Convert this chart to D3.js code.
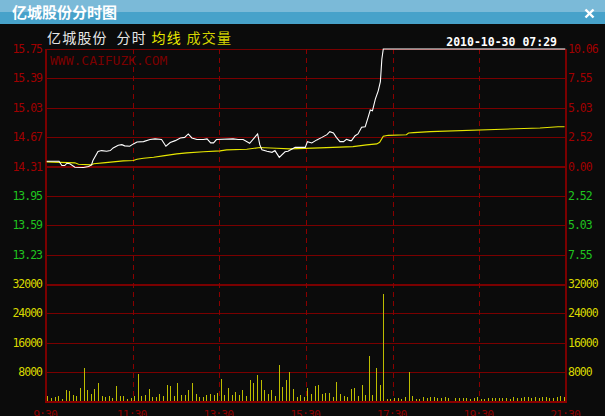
<!DOCTYPE html>
<html><head><meta charset="utf-8">
<script src="https://cdn.jsdelivr.net/npm/d3@7"></script>
<style>body{margin:0;background:#0b0b0b;overflow:hidden} svg{display:block}</style>
</head><body><svg id="c" width="605" height="416"></svg>
<script>
const titleText = "亿城股份分时图";
const dateText = "2010-10-30 07:29";
const watermark = "WWW.CAIFUZK.COM";
const legendParts = ["亿城股份","分时","均线","成交量"];
const legendColors = ["#e6e6e6","#e6e6e6","#e8e800","#d4d400"];
const priceTicks = [15.75,15.39,15.03,14.67,14.31,13.95,13.59,13.23];
const pctLabels = ["10.06","7.55","5.03","2.52","0.00","2.52","5.03","7.55"];
const volTicks = [32000,24000,16000,8000];
const timeLabels = ["9:30","11:30","13:30","15:30","17:30","19:30","21:30"];
const timeMinutes = [0,120,240,360,480,600,720];
const prevClose = 14.31;

const priceMin = [1,18,22,26,29,33,40,52,59,63,65,72,77,84,89,93,100,105,109,116,121,126,135,144,151,160,166,172,179,186,192,197,202,209,218,223,228,232,236,259,266,273,282,293,296,299,306,313,317,323,331,335,340,345,359,362,368,375,382,389,393,398,402,407,412,416,421,423,428,432,437,442,446,449,452,456,460,463,465,467,719];
const priceVal = [14.375,14.375,14.322,14.322,14.35,14.343,14.301,14.298,14.31,14.33,14.383,14.493,14.505,14.497,14.505,14.538,14.57,14.578,14.563,14.558,14.587,14.611,14.615,14.64,14.648,14.64,14.558,14.603,14.627,14.66,14.667,14.709,14.66,14.64,14.64,14.648,14.6,14.6,14.64,14.648,14.64,14.64,14.594,14.709,14.578,14.514,14.497,14.484,14.505,14.423,14.49,14.497,14.521,14.545,14.545,14.615,14.599,14.636,14.667,14.7,14.737,14.721,14.667,14.615,14.615,14.643,14.627,14.627,14.688,14.709,14.79,14.798,14.912,15.002,14.993,15.136,15.237,15.351,15.624,15.75,15.75];

const avgMin = [1,40,45,63,66,79,93,107,121,126,135,149,162,181,195,218,241,250,278,296,319,338,379,425,444,458,462,467,474,499,502,509,532,684,709,718];
const avgVal = [14.367,14.355,14.338,14.33,14.343,14.355,14.367,14.379,14.383,14.399,14.411,14.423,14.44,14.465,14.477,14.49,14.502,14.514,14.521,14.542,14.533,14.526,14.538,14.554,14.575,14.587,14.606,14.68,14.692,14.7,14.721,14.725,14.737,14.782,14.798,14.798];

const volumes = [1370,800,1200,1370,550,3000,2700,1640,1370,3550,
9000,3000,1920,3280,4920,1370,1100,1370,820,4100,
1370,1370,550,820,1370,7400,1370,1640,3280,1100,
1100,1920,1370,4370,4100,1370,4920,1640,1640,3000,
4920,1920,1100,1100,1640,1920,1640,2200,6000,1640,
3550,1640,2460,1640,3000,1370,5740,4920,7100,5740,
3000,1920,3000,1370,9850,3830,5740,7930,3280,1100,
1640,1100,3550,1920,4100,4370,1920,2200,2200,1100,
5200,1920,1370,1100,3280,3550,1370,4370,1640,12300,
1640,9020,4370,29260,550,550,820,730,460,1000,
7900,1280,460,460,1000,730,1000,1000,730,730,
1000,730,0,730,730,730,730,460,730,1000,
460,460,730,730,730,730,730,730,460,1000,
730,730,1000,1000,730,1000,730,1000,1000,730,
730,1000,1280,1000];

const svg = d3.select("#c");
const L = 46, R = 566, T = 49, PB = 284, VB = 401;
const x = d3.scaleLinear().domain([0,720]).range([L,R]);
const yP = d3.scaleLinear().domain([12.87,15.75]).range([PB,T]);
const yV = d3.scaleLinear().domain([0,32000]).range([VB,PB]);

const RED = "#a00000", GRID = "#7a0000", GREEN = "#1fc31f", YEL = "#d8d800";
const mono = "'DejaVu Sans Mono', monospace";
const cjk = "'Noto Sans CJK SC', sans-serif";

svg.append("rect").attr("width",605).attr("height",416).attr("fill","#0b0b0b");
svg.append("rect").attr("x",0).attr("y",0).attr("width",605).attr("height",12).attr("fill","#7bbad8");
svg.append("rect").attr("x",0).attr("y",12).attr("width",605).attr("height",12).attr("fill","#47a2ca");
svg.append("text").attr("x",12).attr("y",17.5).attr("fill","#fff").attr("font-family",cjk)
  .attr("font-weight","bold").attr("font-size",15).text(titleText);
const cx = 589.5, cy = 13.5;
[[-4,-4,4,4],[-4,4,4,-4]].forEach(d=>svg.append("line").attr("x1",cx+d[0]).attr("y1",cy+d[1])
  .attr("x2",cx+d[2]).attr("y2",cy+d[3]).attr("stroke","#fff").attr("stroke-width",2.4));

// header legend text, placed word by word
const legendX = [47,116.5,151.5,186.5];
legendParts.forEach((t,i)=>{
  svg.append("text").attr("x",legendX[i]).attr("y",42.5).attr("font-family",cjk).attr("font-size",14)
    .attr("letter-spacing","1.2px").attr("fill",legendColors[i]).text(t);
});

svg.append("text").attr("x",557).attr("y",45.5).attr("text-anchor","end").attr("fill","#fff")
  .attr("font-family",mono).attr("font-weight","bold").attr("font-size",11.5).text(dateText);

svg.append("text").attr("x",50).attr("y",65).attr("fill","#7a0000").attr("font-family",mono)
  .attr("font-size",13).text(watermark);

const g = svg.append("g").attr("shape-rendering","crispEdges");
priceTicks.forEach((p,i)=>{
  if (i===0) return;
  g.append("line").attr("x1",L).attr("x2",R).attr("y1",Math.round(yP(p))+0.5).attr("y2",Math.round(yP(p))+0.5)
   .attr("stroke",GRID).attr("stroke-width", p===prevClose?2:1);
});
g.append("line").attr("x1",L).attr("x2",R).attr("y1",T+0.5).attr("y2",T+0.5).attr("stroke",GRID).attr("stroke-width",1);
volTicks.forEach((v,i)=>{
  g.append("line").attr("x1",L).attr("x2",R).attr("y1",Math.round(yV(v))+0.5).attr("y2",Math.round(yV(v))+0.5)
   .attr("stroke",GRID).attr("stroke-width", i===0?2:1);
});
timeMinutes.slice(1,-1).forEach(m=>{
  g.append("line").attr("x1",Math.round(x(m))+0.5).attr("x2",Math.round(x(m))+0.5).attr("y1",T).attr("y2",VB)
   .attr("stroke","#8a0000").attr("stroke-width",1).attr("stroke-dasharray","5,4");
});

g.selectAll("line.vol").data(volumes).enter().append("line").attr("class","vol")
  .attr("x1",(d,i)=>Math.round(x(i*5+2))+0.5).attr("x2",(d,i)=>Math.round(x(i*5+2))+0.5)
  .attr("y1",yV(0)).attr("y2",d=>yV(d)).attr("stroke","#bcbc00").attr("stroke-width",1);

const lineP = d3.line().x(d=>x(d[0])).y(d=>yP(d[1]));
svg.append("path").datum(d3.zip(avgMin,avgVal)).attr("d",lineP).attr("fill","none")
  .attr("stroke","#e6e600").attr("stroke-width",1.1);
svg.append("path").datum(d3.zip(priceMin,priceVal)).attr("d",lineP).attr("fill","none")
  .attr("stroke","#ffffff").attr("stroke-width",1.1);

g.append("line").attr("x1",L).attr("x2",L).attr("y1",T).attr("y2",VB+2).attr("stroke",GRID).attr("stroke-width",2);
g.append("line").attr("x1",R).attr("x2",R).attr("y1",T).attr("y2",VB+2).attr("stroke",GRID).attr("stroke-width",2);
g.append("line").attr("x1",L-1).attr("x2",R+1).attr("y1",VB+1).attr("y2",VB+1).attr("stroke","#8a0000").attr("stroke-width",2);

const lab = svg.append("g").attr("font-family",mono).attr("font-size",11.5).attr("letter-spacing","-1px");
priceTicks.forEach((p,i)=>{
  const col = p>=prevClose?RED:GREEN;
  lab.append("text").attr("x",42).attr("y",yP(p)+4).attr("text-anchor","end").attr("fill",col).text(p.toFixed(2));
  lab.append("text").attr("x",568).attr("y",yP(p)+4).attr("fill",col).text(pctLabels[i]);
});
volTicks.forEach(v=>{
  lab.append("text").attr("x",42).attr("y",yV(v)+4).attr("text-anchor","end").attr("fill",YEL).text(v);
  lab.append("text").attr("x",568).attr("y",yV(v)+4).attr("fill",YEL).text(v);
});
timeLabels.forEach((t,i)=>{
  lab.append("text").attr("x",x(timeMinutes[i])-1).attr("y",418.5).attr("text-anchor","middle").attr("fill","#8a0000").text(t);
});
</script></body></html>
